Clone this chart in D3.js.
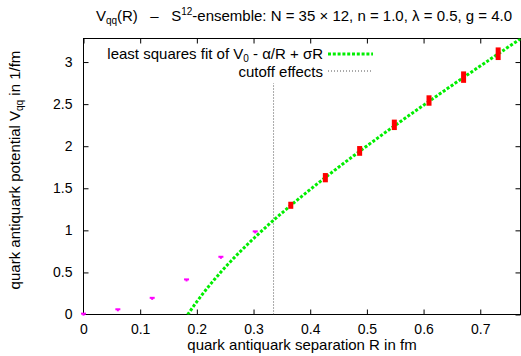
<!DOCTYPE html>
<html>
<head>
<meta charset="utf-8">
<script src="https://cdn.jsdelivr.net/npm/d3@7"></script>
<style>
  html, body { margin: 0; padding: 0; background: #fff; }
  svg { display: block; font-family: "Liberation Sans", Arial, Helvetica, sans-serif; }
  text { white-space: pre; }
</style>
</head>
<body>
<svg id="chart" width="521" height="356"></svg>
<script>
// Lattice separations (fm) and measured potential (1/fm)
const shortR   = [0.0, 0.0606, 0.1212, 0.1818, 0.2424, 0.3030];
const shortV   = [0.0, 0.050, 0.186, 0.405, 0.674, 0.976];
const shortErr = [0.01, 0.012, 0.012, 0.012, 0.012, 0.012];

const longR   = [0.3657, 0.4267, 0.4872, 0.5484, 0.6096, 0.6706, 0.7316];
const longV   = [1.298, 1.626, 1.944, 2.254, 2.543, 2.821, 3.099];
const longErr = [0.042, 0.055, 0.058, 0.062, 0.062, 0.068, 0.075];

// Fit parameters for V0 - alpha/R + sigma*R
const fitV0 = 0.311, fitAlpha = 0.1988, fitSigma = 4.18;

// Cutoff marker
const cutoffR = 0.3353;
const cutoffV = [0.0, 2.75];

const xTicks = [0, 0.1, 0.2, 0.3, 0.4, 0.5, 0.6, 0.7];
const yTicks = [0, 0.5, 1, 1.5, 2, 2.5, 3];

const svg = d3.select("#chart");
const m = { left: 83.5, right: 520.5, top: 38.5, bottom: 314.5 };

const x = d3.scaleLinear().domain([0, 0.771]).range([m.left, m.right]);
const y = d3.scaleLinear().domain([0, 3.28]).range([m.bottom, m.top]);

svg.append("defs").append("clipPath").attr("id", "plotclip")
  .append("rect").attr("x", m.left).attr("y", m.top)
  .attr("width", m.right - m.left).attr("height", m.bottom - m.top);

// Frame
svg.append("rect")
  .attr("x", m.left).attr("y", m.top)
  .attr("width", m.right - m.left).attr("height", m.bottom - m.top)
  .attr("fill", "none").attr("stroke", "#000").attr("stroke-width", 1);

// Axes with inward ticks on all four sides
const tickLen = 5;
const axB = svg.append("g").attr("transform", `translate(0,${m.bottom})`)
  .call(d3.axisBottom(x).tickValues(xTicks).tickSize(-tickLen).tickPadding(10)
    .tickFormat(d3.format("~g")));
const axT = svg.append("g").attr("transform", `translate(0,${m.top})`)
  .call(d3.axisTop(x).tickValues(xTicks).tickSize(-tickLen).tickFormat(""));
const axL = svg.append("g").attr("transform", `translate(${m.left},0)`)
  .call(d3.axisLeft(y).tickValues(yTicks).tickSize(-tickLen).tickPadding(11)
    .tickFormat(d3.format("~g")));
const axR = svg.append("g").attr("transform", `translate(${m.right},0)`)
  .call(d3.axisRight(y).tickValues(yTicks).tickSize(-tickLen).tickFormat(""));
[axB, axT, axL, axR].forEach(a => {
  a.select(".domain").remove();
  a.selectAll(".tick line").attr("stroke", "#000");
  a.selectAll("text").attr("font-size", 14).attr("fill", "#000")
    .attr("font-family", "Liberation Sans, Arial, sans-serif");
});
axB.selectAll(".tick").filter(d => d === 0).select("line").remove();
axL.selectAll(".tick").filter(d => d === 0).select("line").remove();

const plot = svg.append("g").attr("clip-path", "url(#plotclip)");

// Cutoff line
plot.append("line")
  .attr("x1", x(cutoffR)).attr("x2", x(cutoffR))
  .attr("y1", y(cutoffV[0])).attr("y2", y(cutoffV[1]))
  .attr("stroke", "#555").attr("stroke-width", 1).attr("stroke-dasharray", "1,2");

// Fit curve
const fitPts = d3.range(0.17, 0.80, 0.002).map(r => [r, fitV0 - fitAlpha / r + fitSigma * r]);
plot.append("path")
  .datum(fitPts)
  .attr("d", d3.line().x(d => x(d[0])).y(d => y(d[1])))
  .attr("fill", "none").attr("stroke", "#00ee00").attr("stroke-width", 3)
  .attr("stroke-dasharray", "3,1.8");

// Short-distance points (magenta error bars)
const shortData = shortR.map((r, i) => ({ r, v: shortV[i], e: shortErr[i] }));
const sg = svg.append("g").selectAll("g").data(shortData).join("g");
sg.append("rect")
  .attr("x", d => x(d.r) - 2.5).attr("y", d => y(d.v + d.e) - 1)
  .attr("width", 5).attr("height", 2).attr("fill", "#ff00ff");
sg.append("rect")
  .attr("x", d => x(d.r) - 1).attr("y", d => y(d.v + d.e))
  .attr("width", 2).attr("height", d => Math.max(2, y(d.v - d.e) - y(d.v + d.e)))
  .attr("fill", "#ff00ff");

// Long-distance points (red error bars)
const longData = longR.map((r, i) => ({ r, v: longV[i], e: longErr[i] }));
svg.append("g").selectAll("rect").data(longData).join("rect")
  .attr("x", d => x(d.r) - 2.5).attr("y", d => y(d.v + d.e))
  .attr("width", 5).attr("height", d => y(d.v - d.e) - y(d.v + d.e))
  .attr("fill", "#ff0000");

// Legend
const lg = svg.append("g").attr("font-size", 15).attr("fill", "#000");
const l1 = lg.append("text").attr("x", 323).attr("y", 59).attr("text-anchor", "end");
l1.append("tspan").text("least squares fit of V");
l1.append("tspan").attr("font-size", 10).attr("dy", 2.5).text("0");
l1.append("tspan").attr("dy", -2.5).text(" - \u03B1/R + \u03C3R");
lg.append("line").attr("x1", 328).attr("x2", 373).attr("y1", 54).attr("y2", 54)
  .attr("stroke", "#00ee00").attr("stroke-width", 3).attr("stroke-dasharray", "3,1.8");
lg.append("text").attr("x", 323).attr("y", 77).attr("text-anchor", "end").text("cutoff effects");
lg.append("line").attr("x1", 328).attr("x2", 373).attr("y1", 71).attr("y2", 71)
  .attr("stroke", "#555").attr("stroke-width", 1).attr("stroke-dasharray", "1,2");

// Title
const t = svg.append("text").attr("x", 304).attr("y", 21).attr("text-anchor", "middle")
  .attr("font-size", 15).attr("fill", "#000");
t.append("tspan").text("V");
t.append("tspan").attr("font-size", 10).attr("dy", 3).text("qq");
t.append("tspan").attr("dy", -3).text("(R)   \u2013   S");
t.append("tspan").attr("font-size", 10).attr("dy", -6).text("12");
t.append("tspan").attr("dy", 6).text("-ensemble: N = 35 \u00D7 12, n = 1.0, \u03BB = 0.5, g = 4.0");

// Axis titles
svg.append("text").attr("x", 302).attr("y", 350).attr("text-anchor", "middle")
  .attr("font-size", 15).attr("fill", "#000").text("quark antiquark separation R in fm");
const yl = svg.append("text").attr("transform", "translate(20,170) rotate(-90)")
  .attr("text-anchor", "middle").attr("font-size", 15).attr("fill", "#000");
yl.append("tspan").text("quark antiquark potential V");
yl.append("tspan").attr("font-size", 10).attr("dy", 3).text("qq");
yl.append("tspan").attr("dy", -3).text(" in 1/fm");
</script>
</body>
</html>
